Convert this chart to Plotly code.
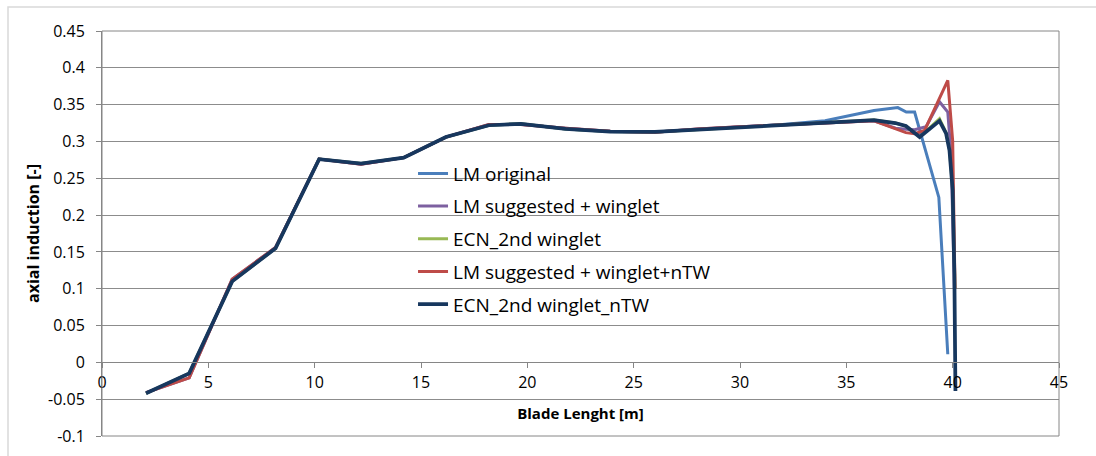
import plotly.graph_objects as go

# Spanwise stations (m) shared by the root / mid-span part of every case
span_root = [2.07, 4.10, 6.12, 8.16, 10.21, 12.18, 14.19, 16.17, 18.19, 19.70,
             21.80, 23.90, 26.00, 28.00, 30.00, 32.00]

# LM original
lm_orig_x = span_root + [34.00, 36.30, 37.42, 37.82, 38.21, 39.35, 39.77]
lm_orig_y = [-0.042, -0.015, 0.110, 0.155, 0.276, 0.270, 0.278, 0.306, 0.322, 0.324,
             0.317, 0.3135, 0.313, 0.316, 0.319, 0.323,
             0.328, 0.342, 0.346, 0.340, 0.340, 0.224, 0.011]

# LM suggested + winglet
lm_wl_x = span_root + [34.00, 36.30, 37.32, 37.80, 38.21, 38.75, 39.38, 39.77, 39.93, 40.08]
lm_wl_y = [-0.041, -0.021, 0.113, 0.156, 0.276, 0.269, 0.278, 0.306, 0.323, 0.323,
           0.318, 0.314, 0.3125, 0.317, 0.320, 0.322,
           0.325, 0.328, 0.318, 0.3165, 0.316, 0.320, 0.354, 0.340, 0.280, 0.100]

# ECN_2nd winglet
ecn_wl_x = span_root + [34.00, 36.30, 37.30, 37.80, 38.45, 39.38, 39.69, 39.85, 40.00, 40.08, 40.11]
ecn_wl_y = [-0.042, -0.015, 0.110, 0.155, 0.276, 0.270, 0.278, 0.306, 0.322, 0.324,
            0.317, 0.3135, 0.313, 0.316, 0.319, 0.322,
            0.326, 0.329, 0.325, 0.321, 0.306, 0.331, 0.312, 0.289, 0.235, 0.150, 0.100]

# LM suggested + winglet+nTW
lm_wl_ntw_x = span_root + [34.00, 36.30, 37.32, 37.80, 38.21, 38.68, 39.77, 40.00, 40.11]
lm_wl_ntw_y = [-0.041, -0.021, 0.113, 0.156, 0.276, 0.269, 0.278, 0.306, 0.323, 0.323,
               0.318, 0.314, 0.3125, 0.317, 0.320, 0.322,
               0.325, 0.328, 0.3175, 0.312, 0.3105, 0.315, 0.383, 0.301, 0.100]

# ECN_2nd winglet_nTW
ecn_wl_ntw_x = span_root + [34.00, 36.30, 37.30, 37.80, 38.45, 39.38, 39.69, 39.85, 40.00, 40.08, 40.13]
ecn_wl_ntw_y = [-0.042, -0.015, 0.110, 0.155, 0.276, 0.270, 0.278, 0.306, 0.322, 0.324,
                0.317, 0.3135, 0.313, 0.316, 0.319, 0.322,
                0.326, 0.329, 0.325, 0.321, 0.306, 0.328, 0.311, 0.288, 0.234, 0.120, -0.039]

series = [
    ("LM original", lm_orig_x, lm_orig_y, "#4A7EBB", 3),
    ("LM suggested + winglet", lm_wl_x, lm_wl_y, "#7D60A0", 3),
    ("ECN_2nd winglet", ecn_wl_x, ecn_wl_y, "#98B954", 3),
    ("LM suggested + winglet+nTW", lm_wl_ntw_x, lm_wl_ntw_y, "#BE4B48", 3),
    ("ECN_2nd winglet_nTW", ecn_wl_ntw_x, ecn_wl_ntw_y, "#17375E", 3.75),
]

x_ticks = [0, 5, 10, 15, 20, 25, 30, 35, 40, 45]
y_ticks = [-0.1, -0.05, 0, 0.05, 0.1, 0.15, 0.2, 0.25, 0.3, 0.35, 0.4, 0.45]
y_tick_text = ["-0.1", "-0.05", "0", "0.05", "0.1", "0.15", "0.2", "0.25",
               "0.3", "0.35", "0.4", "0.45"]

FONT = "Open Sans, Liberation Sans, sans-serif"
Y_MIN, Y_MAX = -0.1, 0.45

fig = go.Figure()
for i, (name, xs, ys, color, width) in enumerate(series):
    fig.add_trace(go.Scatter(
        x=xs, y=ys, mode="lines", name=name, legendgroup=f"g{i}",
        line=dict(color=color, width=width),
    ))

fig.update_layout(
    width=1096, height=456,
    margin=dict(l=102, r=37, t=31, b=20, autoexpand=False),
    paper_bgcolor="white", plot_bgcolor="white",
    font=dict(family=FONT, size=16, color="#000000"),
    showlegend=True,
    legend=dict(
        x=0.325, y=0.695, xanchor="left", yanchor="top",
        bgcolor="rgba(0,0,0,0)", borderwidth=0,
        font=dict(family=FONT, size=19, color="#000000"),
        tracegroupgap=5, itemwidth=30,
    ),
    xaxis=dict(
        range=[0, 45], tickvals=x_ticks, ticktext=[str(v) for v in x_ticks],
        showgrid=False, zeroline=False, automargin=False,
        anchor="free", position=(0 - Y_MIN) / (Y_MAX - Y_MIN),
        showline=True, linecolor="#868686", linewidth=1,
        ticks="outside", ticklen=5, tickcolor="#868686",
        tickfont=dict(family=FONT, size=16),
        title=dict(text="<b>Blade Lenght [m]</b>", standoff=16,
                   font=dict(family=FONT, size=15)),
    ),
    yaxis=dict(
        range=[Y_MIN, Y_MAX], tickvals=y_ticks, ticktext=y_tick_text,
        showgrid=True, gridcolor="#8C8C8C", gridwidth=1,
        zeroline=False, automargin=False,
        showline=True, linecolor="#868686", linewidth=1,
        ticks="outside", ticklen=5, tickcolor="#868686",
        ticklabelstandoff=8,
        tickfont=dict(family=FONT, size=16),
        title=dict(text="<b>axial induction [-]</b>", standoff=4,
                   font=dict(family=FONT, size=16)),
    ),
    shapes=[
        # plot-area frame
        dict(type="rect", xref="paper", yref="paper", x0=0, x1=1, y0=0, y1=1,
             line=dict(color="#868686", width=1), layer="above"),
        # chart-area frame
        dict(type="rect", xref="paper", yref="paper",
             x0=-94 / 957, x1=1.2, y0=-0.5, y1=1 + 24 / 405,
             line=dict(color="#D9D9D9", width=1.5), layer="below"),
    ],
)

fig.write_html("out.html")
